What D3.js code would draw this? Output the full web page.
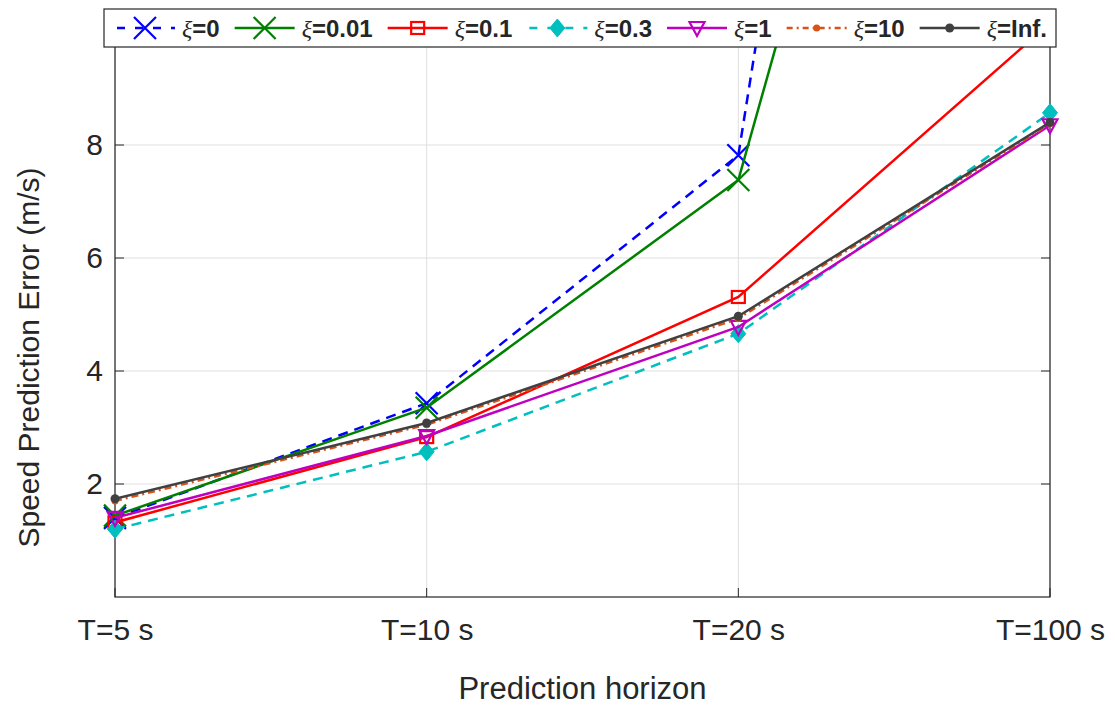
<!DOCTYPE html>
<html>
<head>
<meta charset="utf-8">
<script src="https://cdn.jsdelivr.net/npm/d3@7/dist/d3.min.js"></script>
<style>
    body { margin: 0; background: #fff; }
    text { font-family: Arial, "Liberation Sans", sans-serif; fill: #262626; }
</style>
</head>
<body>
<div id="chart"></div>
<script>
// values
var horizons = ["T=5 s", "T=10 s", "T=20 s", "T=100 s"];
var yTicks = [2, 4, 6, 8];

var xi0    = [1.40, 3.43, 7.82, 42.5];
var xi001  = [1.44, 3.35, 7.38, 27.0];
var xi01   = [1.32, 2.83, 5.31, 10.16];
var xi03   = [1.20, 2.57, 4.66, 8.57];
var xi1    = [1.40, 2.85, 4.78, 8.35];
var xi10   = [1.70, 3.05, 4.93, 8.38];
var xiInf  = [1.74, 3.08, 4.97, 8.40];

var labels = ["0", "0.01", "0.1", "0.3", "1", "10", "Inf."];
var colors = ["#0000ff", "#008000", "#ff0000", "#00bfbf", "#bf00bf", "#d95319", "#404040"];
var dashes = ["10,7", null, null, "10,7", null, "7,4,2,4", null];
var markers = ["x", "x", "square", "diamond", "triDown", "dot", "dotBig"];

var series = [xi0, xi001, xi01, xi03, xi1, xi10, xiInf].map(function (v, i) {
    return {values: v, label: labels[i], color: colors[i], dash: dashes[i], marker: markers[i]};
});

var width = 1115, height = 706;
var margin = {top: 32, right: 65, bottom: 109, left: 115};

var svg = d3.select("#chart")
    .append("svg")
    .attr("width", width)
    .attr("height", height);

var xScale = d3.scalePoint()
    .domain(horizons)
    .range([margin.left, width - margin.right]);

var yScale = d3.scaleLinear()
    .domain([0, 10])
    .range([height - margin.bottom, margin.top]);

var x0 = margin.left, x1 = width - margin.right,
    y0 = height - margin.bottom, y1 = margin.top;

// grid
svg.append("g")
    .selectAll("line.gy")
    .data(yTicks)
    .enter().append("line")
    .attr("x1", x0).attr("x2", x1)
    .attr("y1", function (d) { return yScale(d); })
    .attr("y2", function (d) { return yScale(d); })
    .attr("stroke", "#dfdfdf");

svg.append("g")
    .selectAll("line.gx")
    .data(horizons)
    .enter().append("line")
    .attr("x1", function (d) { return xScale(d); })
    .attr("x2", function (d) { return xScale(d); })
    .attr("y1", y0).attr("y2", y1)
    .attr("stroke", "#dfdfdf");

// axes (matlab box with inward ticks)
var yAxis = d3.axisLeft(yScale).tickValues(yTicks).tickSize(0).tickPadding(12);
var gy = svg.append("g")
    .attr("transform", "translate(" + x0 + ",0)")
    .call(yAxis);
gy.selectAll("text").style("font-size", "30px").attr("fill", "#262626");
gy.select("path.domain").remove();

var xAxis = d3.axisBottom(xScale).tickSize(0).tickPadding(22);
var gx = svg.append("g")
    .attr("transform", "translate(0," + y0 + ")")
    .call(xAxis);
gx.selectAll("text").style("font-size", "30px").attr("fill", "#262626");
gx.select("path.domain").remove();

var tickLen = 9;
var ticks = svg.append("g").attr("stroke", "#262626");
yTicks.forEach(function (t) {
    ticks.append("line").attr("x1", x0).attr("x2", x0 + tickLen)
        .attr("y1", yScale(t)).attr("y2", yScale(t));
    ticks.append("line").attr("x1", x1).attr("x2", x1 - tickLen)
        .attr("y1", yScale(t)).attr("y2", yScale(t));
});
horizons.forEach(function (h) {
    ticks.append("line").attr("x1", xScale(h)).attr("x2", xScale(h))
        .attr("y1", y0).attr("y2", y0 - tickLen);
});

svg.append("rect")
    .attr("x", x0).attr("y", y1)
    .attr("width", x1 - x0).attr("height", y0 - y1)
    .attr("fill", "none")
    .attr("stroke", "#262626")
    .attr("stroke-width", 1.2);

// axis labels
svg.append("text")
    .attr("x", (x0 + x1) / 2)
    .attr("y", 699)
    .attr("text-anchor", "middle")
    .style("font-size", "31px")
    .text("Prediction horizon");

svg.append("text")
    .attr("transform", "translate(39," + ((y0 + 110) / 2 + 4) + ") rotate(-90)")
    .attr("text-anchor", "middle")
    .style("font-size", "30px")
    .text("Speed Prediction Error (m/s)");

// markers
function drawMarker(g, type, color, cx, cy) {
    if (type === "x") {
        var s = 11;
        g.append("path")
            .attr("d", "M" + (cx - s) + "," + (cy - s) + "L" + (cx + s) + "," + (cy + s) +
                "M" + (cx - s) + "," + (cy + s) + "L" + (cx + s) + "," + (cy - s))
            .attr("stroke", color).attr("stroke-width", 2.2).attr("fill", "none");
    } else if (type === "square") {
        g.append("rect")
            .attr("x", cx - 6.5).attr("y", cy - 6).attr("width", 13).attr("height", 12)
            .attr("stroke", color).attr("stroke-width", 2.2).attr("fill", "none");
    } else if (type === "diamond") {
        g.append("path")
            .attr("d", "M" + cx + "," + (cy - 9) + "L" + (cx + 7.5) + "," + cy +
                "L" + cx + "," + (cy + 9) + "L" + (cx - 7.5) + "," + cy + "Z")
            .attr("fill", color).attr("stroke", color).attr("stroke-width", 1);
    } else if (type === "triDown") {
        g.append("path")
            .attr("d", "M" + (cx - 7.5) + "," + (cy - 6) + "L" + (cx + 7.5) + "," + (cy - 6) +
                "L" + cx + "," + (cy + 8) + "Z")
            .attr("fill", "none").attr("stroke", color).attr("stroke-width", 2.2);
    } else if (type === "dot") {
        g.append("circle").attr("cx", cx).attr("cy", cy).attr("r", 3.5).attr("fill", color);
    } else if (type === "dotBig") {
        g.append("circle").attr("cx", cx).attr("cy", cy).attr("r", 4.5).attr("fill", color);
    }
}

svg.append("clipPath").attr("id", "plotClip")
    .append("rect")
    .attr("x", x0).attr("y", y1)
    .attr("width", x1 - x0).attr("height", y0 - y1);

var line = d3.line()
    .x(function (d, i) { return xScale(horizons[i]); })
    .y(function (d) { return yScale(d); });

var seriesG = svg.append("g");
series.forEach(function (s) {
    var g = seriesG.append("g");
    g.append("path")
        .attr("d", line(s.values))
        .attr("clip-path", "url(#plotClip)")
        .attr("fill", "none")
        .attr("stroke", s.color)
        .attr("stroke-width", 2.5)
        .attr("stroke-dasharray", s.dash);
    s.values.forEach(function (v, i) {
        if (v <= 10) drawMarker(g, s.marker, s.color, xScale(horizons[i]), yScale(v));
    });
});

// legend
var legY = 28;
var legend = svg.append("g");
legend.append("rect")
    .attr("x", 104).attr("y", 9)
    .attr("width", 952).attr("height", 38)
    .attr("fill", "#fff")
    .attr("stroke", "#262626")
    .attr("stroke-width", 1.2);

var lx = 115;
series.forEach(function (s) {
    legend.append("line")
        .attr("x1", lx).attr("x2", lx + 60)
        .attr("y1", legY).attr("y2", legY)
        .attr("stroke", s.color)
        .attr("stroke-width", 2.5)
        .attr("stroke-dasharray", s.dash ? (s.dash === "10,7" ? "8,10" : "6,4,2,4") : null)
        .attr("stroke-dashoffset", s.dash === "10,7" ? -2 : 0);
    drawMarker(legend, s.marker, s.color, lx + 30, legY);
    var t = legend.append("text")
        .attr("x", lx + 67)
        .attr("y", legY + 8.5)
        .style("font-size", "24px")
        .style("font-weight", "bold");
    t.append("tspan")
        .style("font-family", "'Liberation Serif', 'Times New Roman', serif")
        .style("font-style", "italic")
        .style("font-weight", "normal")
        .text("ξ");
    t.append("tspan").text("=" + s.label);
    lx += 67 + t.node().getComputedTextLength() + 15;
});
</script>
</body>
</html>
